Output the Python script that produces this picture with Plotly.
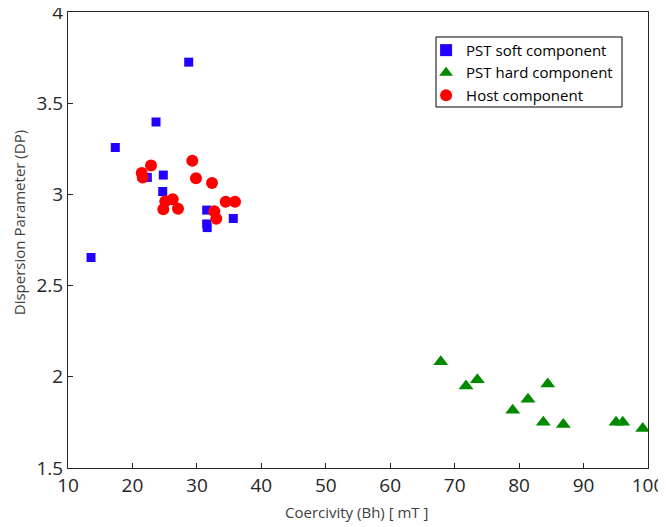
import plotly.graph_objects as go

# PST soft component
soft_x = [28.73, 23.66, 17.34, 22.31, 24.79, 24.70, 31.52, 31.52, 31.60, 35.65, 13.57]
soft_y = [3.725, 3.397, 3.257, 3.093, 3.106, 3.016, 2.914, 2.838, 2.818, 2.868, 2.654]

# PST hard component
hard_x = [67.84, 71.76, 73.52, 84.44, 81.38, 79.01, 83.76, 86.86, 95.04, 96.08, 99.18]
hard_y = [2.082, 1.949, 1.984, 1.960, 1.877, 1.817, 1.751, 1.738, 1.751, 1.751, 1.716]

# Host component
host_x = [22.88, 21.44, 21.59, 29.29, 29.86, 32.35, 26.25, 25.10, 24.79, 27.07, 32.70, 33.01, 34.47, 35.92]
host_y = [3.158, 3.117, 3.092, 3.185, 3.088, 3.062, 2.973, 2.963, 2.918, 2.921, 2.908, 2.867, 2.960, 2.960]

x_ticks = [10, 20, 30, 40, 50, 60, 70, 80, 90, 100]
y_ticks = [1.5, 2, 2.5, 3, 3.5, 4]

FONT = "Open Sans"
AX = "#262626"

fig = go.Figure()
fig.add_trace(go.Scatter(x=soft_x, y=soft_y, mode="markers", name="PST soft component",
                         marker=dict(symbol="square", size=9, color="#2200ff")))
fig.add_trace(go.Scatter(x=hard_x, y=hard_y, mode="markers", name="PST hard component",
                         marker=dict(symbol="triangle-up", size=13, color="#008a00")))
fig.add_trace(go.Scatter(x=host_x, y=host_y, mode="markers", name="Host component",
                         marker=dict(symbol="circle", size=12, color="#ff0000")))

axis_common = dict(showgrid=False, zeroline=False, showline=True, linecolor=AX, linewidth=1,
                   mirror=True, ticks="inside", ticklen=5, tickcolor=AX, tickwidth=1,
                   ticklabeloverflow="allow", automargin=False,
                   tickfont=dict(family=FONT, size=19, color=AX))

fig.update_xaxes(range=[10, 100], tickvals=x_ticks, ticktext=[str(v) for v in x_ticks], **axis_common)
fig.update_yaxes(range=[1.5, 4], tickvals=y_ticks, ticktext=[f"{v:g}" for v in y_ticks], **axis_common)

# page body has an 8px margin, so the figure is sized to fit the window
fig.update_layout(
    width=658, height=519,
    margin=dict(l=60, r=18, t=4, b=59),
    plot_bgcolor="white", paper_bgcolor="white",
    font=dict(family=FONT, color=AX),
    showlegend=True,
    legend=dict(x=0.6174, y=0.952, xanchor="left", yanchor="top",
                bgcolor="rgba(0,0,0,0)", borderwidth=0,
                font=dict(family=FONT, size=15, color="#000000"),
                tracegroupgap=0, itemsizing="constant"),
    shapes=[dict(type="rect", xref="paper", yref="paper",
                 x0=0.6345, x1=0.9552, y0=0.7917, y1=0.9452,
                 line=dict(color="#000000", width=1), fillcolor="rgba(0,0,0,0)", layer="below")],
    annotations=[
        dict(text="Coercivity (Bh) [ mT ]", xref="paper", yref="paper", x=0.498, y=-0.0965,
             xanchor="center", yanchor="middle", showarrow=False,
             font=dict(family=FONT, size=15, color="#404040")),
        dict(text="Dispersion Parameter (DP)", xref="paper", yref="paper", x=-0.0845, y=0.539,
             xanchor="center", yanchor="middle", showarrow=False, textangle=-90,
             font=dict(family=FONT, size=15, color="#404040")),
    ],
)

fig.write_html("out.html")
